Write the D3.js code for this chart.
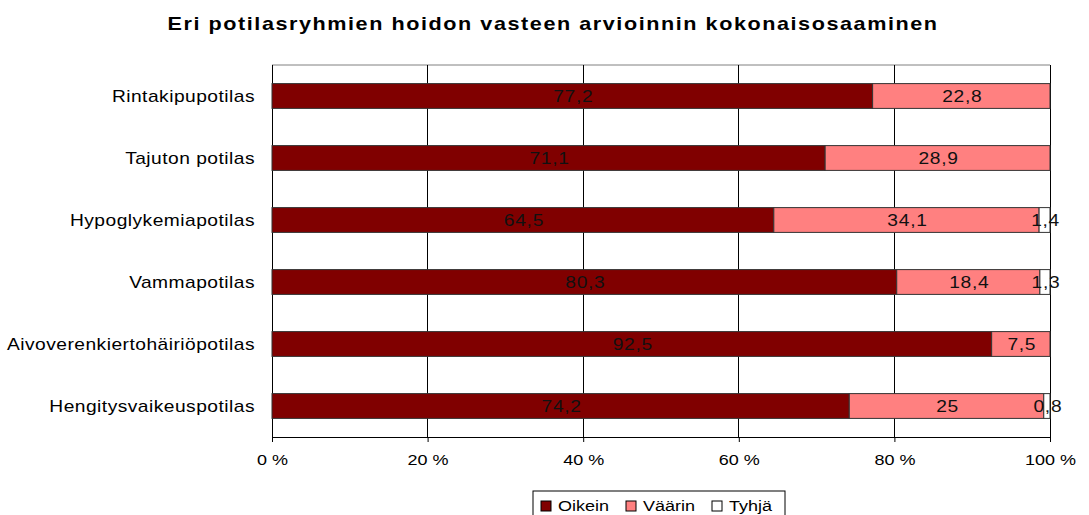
<!DOCTYPE html>
<html>
<head>
<meta charset="utf-8">
<script src="https://cdn.jsdelivr.net/npm/d3@7"></script>
<style>
  body { margin: 0; background: #fff; }
  text { font-family: "Liberation Sans", Arial, sans-serif; }
</style>
</head>
<body>
<svg width="1089" height="515"></svg>
<script>
// chart data
const categories = ["Rintakipupotilas", "Tajuton potilas", "Hypoglykemiapotilas",
  "Vammapotilas", "Aivoverenkiertohäiriöpotilas", "Hengitysvaikeuspotilas"];
const seriesNames = ["Oikein", "Väärin", "Tyhjä"];
const oikein = [77.2, 71.1, 64.5, 80.3, 92.5, 74.2];
const vaarin = [22.8, 28.9, 34.1, 18.4, 7.5, 25];
const tyhja = [0, 0, 1.4, 1.3, 0, 0.8];
const tickValues = [0, 20, 40, 60, 80, 100];
const colors = ["#800000", "#ff8080", "#ffffff"];

const svg = d3.select("svg");
const margin = {left: 272, right: 39, top: 65, bottom: 78};
const W = 1089, H = 515;
const sx = 1.2; // text in the original is drawn a bit wide

// puts a text at (px, py) and widens it horizontally
const place = (px, py) => `translate(${px},${py}) scale(${sx},1)`;

// build rows for the stack
const rows = categories.map((c, i) => ({cat: c, Oikein: oikein[i], "Väärin": vaarin[i], "Tyhjä": tyhja[i]}));
const stacked = d3.stack().keys(seriesNames)(rows);

const x = d3.scaleLinear().domain([0, 100]).range([margin.left, W - margin.right]);
const y = d3.scaleBand().domain(categories).range([margin.top, H - margin.bottom]).paddingInner(0.6).paddingOuter(0.3);

// title
svg.append("text")
  .attr("transform", place(553, 30))
  .attr("text-anchor", "middle")
  .style("font-size", "18px").style("font-weight", "bold")
  .style("letter-spacing", "1.3px")
  .text("Eri potilasryhmien hoidon vasteen arvioinnin kokonaisosaaminen");

// plot frame top
svg.append("line")
  .attr("x1", x(0)).attr("x2", x(100))
  .attr("y1", margin.top).attr("y2", margin.top)
  .attr("stroke", "#808080");

// gridlines
svg.append("g").selectAll("line").data(tickValues).join("line")
  .attr("x1", d => x(d)).attr("x2", d => x(d))
  .attr("y1", margin.top).attr("y2", H - margin.bottom)
  .attr("stroke", "#000").attr("stroke-width", 1)
  .attr("shape-rendering", "crispEdges");

// x axis
const xAxis = svg.append("g")
  .attr("transform", `translate(0,${H - margin.bottom})`)
  .call(d3.axisBottom(x).tickValues(tickValues).tickSize(5).tickPadding(12).tickFormat(d => d + " %"));
xAxis.select(".domain").attr("stroke", "#000");
xAxis.selectAll("text").style("font-size", "15px").attr("fill", "#000")
  .attr("transform", `scale(${sx},1)`)
  .style("font-family", "'Liberation Sans', Arial, sans-serif");

// y labels
svg.append("g").selectAll("text").data(categories).join("text")
  .attr("transform", d => place(255, y(d) + y.bandwidth() / 2))
  .attr("dy", "0.35em")
  .attr("text-anchor", "end")
  .style("font-size", "16px")
  .style("letter-spacing", "0.4px")
  .text(d => d);

// bars
const fmt = v => String(v).replace(".", ",");
const layers = svg.append("g").selectAll("g").data(stacked).join("g")
  .attr("fill", (d, i) => colors[i]);

layers.selectAll("rect").data(d => d.filter(s => s[1] - s[0] > 0)).join("rect")
  .attr("x", d => x(d[0]))
  .attr("y", d => y(d.data.cat))
  .attr("width", d => x(d[1]) - x(d[0]))
  .attr("height", y.bandwidth())
  .attr("stroke", "#333").attr("stroke-width", 1);

// value labels
layers.selectAll("text").data(d => d.filter(s => s[1] - s[0] > 0).map(s => ({s, key: d.key}))).join("text")
  .attr("transform", d => place((x(d.s[0]) + x(d.s[1])) / 2 + 1, y(d.s.data.cat) + y.bandwidth() / 2))
  .attr("dy", "0.35em")
  .attr("text-anchor", "middle")
  .attr("fill", "#111")
  .style("font-size", "16px")
  .style("letter-spacing", "0.6px")
  .text(d => fmt(d.s.data[d.key]));

// legend
const leg = svg.append("g").attr("transform", "translate(533,491)");
leg.append("rect").attr("width", 252).attr("height", 26)
  .attr("fill", "#fff").attr("stroke", "#000");
const items = [8, 93, 179];
seriesNames.forEach((n, i) => {
  const g = leg.append("g").attr("transform", `translate(${items[i]},0)`);
  g.append("rect").attr("x", 0).attr("y", 10).attr("width", 10).attr("height", 10)
    .attr("fill", colors[i]).attr("stroke", "#000");
  g.append("text").attr("transform", place(17, 20))
    .style("font-size", "15px").text(n);
});
</script>
</body>
</html>
